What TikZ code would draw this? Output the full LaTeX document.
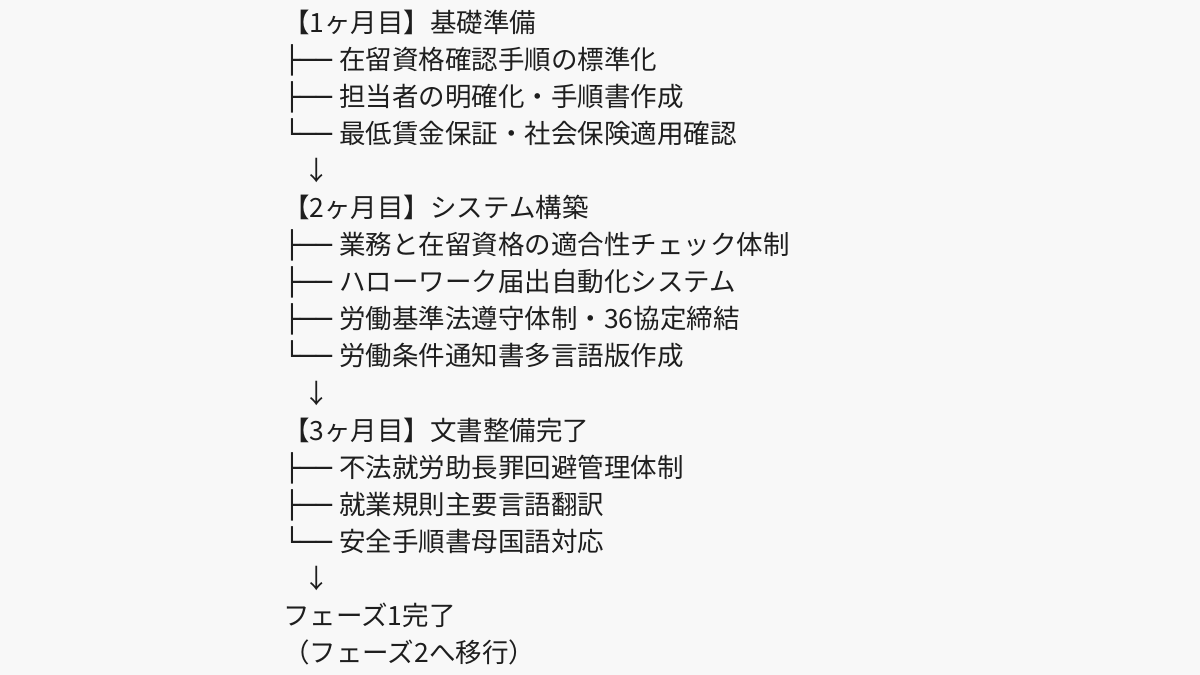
\documentclass[tikz,border=0pt]{standalone}
\usepackage{fontspec}
\setmainfont{Noto Sans CJK JP}
\newfontfamily\boxfont{DejaVu Sans}
\definecolor{bgcol}{RGB}{248,248,248}
\definecolor{txtcol}{RGB}{30,30,30}
\tikzset{
	line/.style={anchor=base west,inner sep=0pt,text=txtcol,font=\fontsize{26.5}{32}\selectfont},
	branch/.style={anchor=base west,inner sep=0pt,text=txtcol,font=\boxfont\fontsize{26.5}{32}\selectfont},
	down/.style={anchor=base,inner sep=0pt,text=txtcol,font=\fontsize{26.5}{32}\selectfont}
}
\begin{document}
\begin{tikzpicture}[x=1pt,y=-1pt]
		\fill[bgcol] (0,0) rectangle (1200,675);
		\node[line] (m1) at (283,32) {【1ヶ月目】基礎準備};
		\node[branch] (b11) at (284,69.1) {├──};
		\node[line] (m1a) at (339,69.1) {在留資格確認手順の標準化};
		\node[branch] (b12) at (284,106.2) {├──};
		\node[line] (m1b) at (339,106.2) {担当者の明確化・手順書作成};
		\node[branch] (b13) at (284,143.3) {└──};
		\node[line] (m1c) at (339,143.3) {最低賃金保証・社会保険適用確認};
		\node[down] (d1) at (317,180.4) {↓};
		\node[line] (m2) at (283,217.5) {【2ヶ月目】システム構築};
		\node[branch] (b21) at (284,254.6) {├──};
		\node[line] (m2a) at (339,254.6) {業務と在留資格の適合性チェック体制};
		\node[branch] (b22) at (284,291.7) {├──};
		\node[line] (m2b) at (339,291.7) {ハローワーク届出自動化システム};
		\node[branch] (b23) at (284,328.8) {├──};
		\node[line] (m2c) at (339,328.8) {労働基準法遵守体制・36協定締結};
		\node[branch] (b24) at (284,365.9) {└──};
		\node[line] (m2d) at (339,365.9) {労働条件通知書多言語版作成};
		\node[down] (d2) at (317,403) {↓};
		\node[line] (m3) at (283,440.1) {【3ヶ月目】文書整備完了};
		\node[branch] (b31) at (284,477.2) {├──};
		\node[line] (m3a) at (339,477.2) {不法就労助長罪回避管理体制};
		\node[branch] (b32) at (284,514.3) {├──};
		\node[line] (m3b) at (339,514.3) {就業規則主要言語翻訳};
		\node[branch] (b33) at (284,551.4) {└──};
		\node[line] (m3c) at (339,551.4) {安全手順書母国語対応};
		\node[down] (d3) at (317,588.5) {↓};
		\node[line] (f1) at (283,625.6) {フェーズ1完了};
		\node[line] (f2) at (283,662.7) {（フェーズ2へ移行）};
\end{tikzpicture}
\end{document}
